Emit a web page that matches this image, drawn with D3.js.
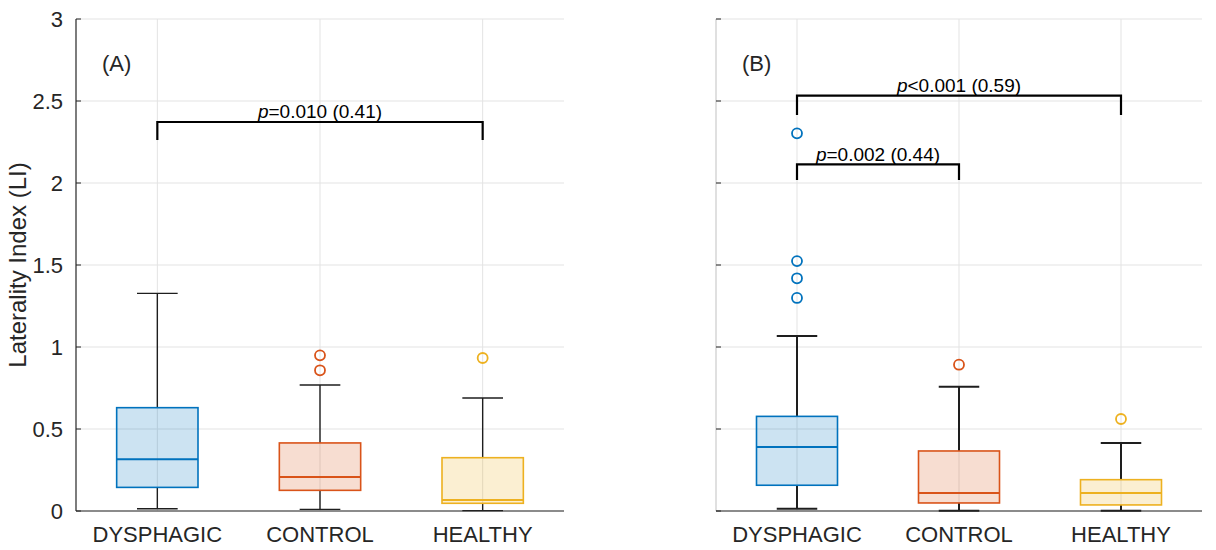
<!DOCTYPE html>
<html>
<head>
<meta charset="utf-8">
<script src="https://cdn.jsdelivr.net/npm/d3@7"></script>
<style>
  body { margin: 0; background: #fff; }
  svg { display: block; font-family: Arial, "Liberation Sans", sans-serif; }
  .grid line { stroke: #e3e3e3; stroke-width: 1; }
  .lbl { fill: #262626; }
</style>
</head>
<body>
<div id="chart"></div>
<script>
var width = 1216,
    height = 550;

// data
var categories = ["DYSPHAGIC", "CONTROL", "HEALTHY"];
var yTicks = [0, 0.5, 1, 1.5, 2, 2.5, 3];
var yTickLabels = ["0", "0.5", "1", "1.5", "2", "2.5", "3"];

// panel (A)
var lowerA  = [0.014, 0.010, 0.002];
var q1A     = [0.144, 0.126, 0.047];
var medianA = [0.315, 0.207, 0.067];
var q3A     = [0.630, 0.415, 0.325];
var upperA  = [1.327, 0.768, 0.689];
var outliersA = [[], [0.949, 0.858], [0.933]];

// panel (B)
var lowerB  = [0.014, 0.002, 0.002];
var q1B     = [0.157, 0.049, 0.037];
var medianB = [0.390, 0.110, 0.110];
var q3B     = [0.577, 0.366, 0.191];
var upperB  = [1.067, 0.758, 0.415];
var outliersB = [[2.303, 1.524, 1.419, 1.299], [0.892], [0.561]];

// significance brackets: group index from/to, bar height, leg bottom, label
var bracketFromA = [0], bracketToA = [2];
var bracketTopA = [2.372], bracketLegA = [2.262];
var bracketTextA = ["=0.010 (0.41)"];

var bracketFromB = [0, 0], bracketToB = [2, 1];
var bracketTopB = [2.533, 2.114], bracketLegB = [2.415, 2.018];
var bracketTextB = ["<0.001 (0.59)", "=0.002 (0.44)"];

var colors = ["#0072BD", "#D95319", "#EDB120"];

var svg = d3.select("#chart").append("svg")
  .attr("width", width)
  .attr("height", height);

var y = d3.scaleLinear().domain([0, 3]).range([511, 19]);

function drawPanel(opt) {
  var x = d3.scaleLinear().domain([0.5, 3.5]).range(opt.range);
  var g = svg.append("g");
  var half = 0.25, cap = 0.125;

  // grid
  var grid = g.append("g").attr("class", "grid");
  grid.selectAll(".gy").data(yTicks).enter().append("line")
    .attr("x1", opt.range[0]).attr("x2", opt.range[1])
    .attr("y1", function(d) { return y(d); })
    .attr("y2", function(d) { return y(d); });
  grid.selectAll(".gx").data(categories).enter().append("line")
    .attr("x1", function(d, i) { return x(i + 1); })
    .attr("x2", function(d, i) { return x(i + 1); })
    .attr("y1", y(0)).attr("y2", y(3));

  var idx = d3.range(categories.length);

  // whiskers
  var wk = g.append("g").attr("stroke", "#1e1e1e").attr("stroke-width", opt.whisker);
  idx.forEach(function(i) {
    var cx = x(i + 1);
    wk.append("line").attr("x1", cx).attr("x2", cx)
      .attr("y1", y(opt.q3[i])).attr("y2", y(opt.upper[i]));
    wk.append("line").attr("x1", cx).attr("x2", cx)
      .attr("y1", y(opt.q1[i])).attr("y2", y(opt.lower[i]));
    wk.append("line").attr("x1", x(i + 1 - cap)).attr("x2", x(i + 1 + cap))
      .attr("y1", y(opt.upper[i])).attr("y2", y(opt.upper[i]));
    wk.append("line").attr("x1", x(i + 1 - cap)).attr("x2", x(i + 1 + cap))
      .attr("y1", y(opt.lower[i])).attr("y2", y(opt.lower[i]));
  });

  // boxes
  g.selectAll(".box").data(idx).enter().append("rect")
    .attr("x", function(i) { return x(i + 1 - half); })
    .attr("width", function(i) { return x(i + 1 + half) - x(i + 1 - half); })
    .attr("y", function(i) { return y(opt.q3[i]); })
    .attr("height", function(i) { return y(opt.q1[i]) - y(opt.q3[i]); })
    .attr("fill", function(i) { return colors[i]; })
    .attr("fill-opacity", 0.2)
    .attr("stroke", function(i) { return colors[i]; })
    .attr("stroke-width", 1.6);

  g.selectAll(".med").data(idx).enter().append("line")
    .attr("x1", function(i) { return x(i + 1 - half); })
    .attr("x2", function(i) { return x(i + 1 + half); })
    .attr("y1", function(i) { return y(opt.median[i]); })
    .attr("y2", function(i) { return y(opt.median[i]); })
    .attr("stroke", function(i) { return colors[i]; })
    .attr("stroke-width", 2);

  // outliers
  idx.forEach(function(i) {
    g.selectAll(".out" + i).data(opt.outliers[i]).enter().append("circle")
      .attr("cx", x(i + 1))
      .attr("cy", function(d) { return y(d); })
      .attr("r", 5)
      .attr("fill", "none")
      .attr("stroke", colors[i])
      .attr("stroke-width", 1.8);
  });

  // axes
  g.append("line")
    .attr("x1", opt.range[0]).attr("x2", opt.range[0])
    .attr("y1", y(0)).attr("y2", y(3))
    .attr("stroke", opt.yAxisColor).attr("stroke-width", 1.2);
  g.selectAll(".yt").data(yTicks).enter().append("line")
    .attr("x1", opt.range[0]).attr("x2", opt.range[0] + 5)
    .attr("y1", function(d) { return y(d); })
    .attr("y2", function(d) { return y(d); })
    .attr("stroke", "#262626").attr("stroke-width", 1);
  g.append("line")
    .attr("x1", opt.range[0]).attr("x2", opt.range[1])
    .attr("y1", y(0)).attr("y2", y(0))
    .attr("stroke", "#262626").attr("stroke-width", 1.2);

  if (opt.showYLabels) {
    g.selectAll(".ytl").data(yTicks).enter().append("text")
      .attr("class", "lbl")
      .attr("x", opt.range[0] - 13)
      .attr("y", function(d) { return y(d); })
      .attr("dy", "0.36em")
      .attr("text-anchor", "end")
      .attr("font-size", 22)
      .text(function(d, i) { return yTickLabels[i]; });
  }

  g.selectAll(".xtl").data(categories).enter().append("text")
    .attr("class", "lbl")
    .attr("x", function(d, i) { return x(i + 1); })
    .attr("y", 542)
    .attr("text-anchor", "middle")
    .attr("font-size", 22)
    .text(function(d) { return d; });

  // panel letter
  g.append("text").attr("class", "lbl")
    .attr("x", x(0.66)).attr("y", y(2.685))
    .attr("font-size", 22)
    .attr("fill", "#000")
    .text(opt.letter);

  // brackets
  opt.bFrom.forEach(function(f, k) {
    var x1 = x(f + 1), x2 = x(opt.bTo[k] + 1);
    g.append("path")
      .attr("d", "M" + x1 + "," + y(opt.bLeg[k]) + "V" + y(opt.bTop[k]) +
                 "H" + x2 + "V" + y(opt.bLeg[k]))
      .attr("fill", "none")
      .attr("stroke", "#000")
      .attr("stroke-width", 2.2);
    var t = g.append("text")
      .attr("x", (x1 + x2) / 2)
      .attr("y", y(opt.bTop[k]) - 3.5)
      .attr("text-anchor", "middle")
      .attr("font-size", 19)
      .attr("fill", "#000");
    t.append("tspan").attr("font-style", "italic").text("p");
    t.append("tspan").text(opt.bText[k]);
  });
}

drawPanel({
  range: [76, 564], letter: "(A)", showYLabels: true, yAxisColor: "#262626",
  whisker: 1.4,
  lower: lowerA, q1: q1A, median: medianA, q3: q3A, upper: upperA, outliers: outliersA,
  bFrom: bracketFromA, bTo: bracketToA, bTop: bracketTopA, bLeg: bracketLegA, bText: bracketTextA
});

drawPanel({
  range: [716, 1202], letter: "(B)", showYLabels: false, yAxisColor: "#cccccc",
  whisker: 2,
  lower: lowerB, q1: q1B, median: medianB, q3: q3B, upper: upperB, outliers: outliersB,
  bFrom: bracketFromB, bTo: bracketToB, bTop: bracketTopB, bLeg: bracketLegB, bText: bracketTextB
});

// y axis title
svg.append("text")
  .attr("class", "lbl")
  .attr("transform", "translate(26," + y(1.5) + ") rotate(-90)")
  .attr("text-anchor", "middle")
  .attr("font-size", 24)
  .text("Laterality Index (LI)");
</script>
</body>
</html>
